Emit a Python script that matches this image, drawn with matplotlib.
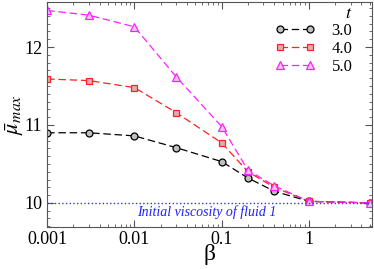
import numpy as np
import matplotlib
matplotlib.use("Agg")
import matplotlib.pyplot as plt
from matplotlib.ticker import MultipleLocator, LogLocator, NullFormatter

plt.rcParams['font.family'] = ['Liberation Serif', 'DejaVu Serif']
plt.rcParams['mathtext.fontset'] = 'stix'

beta = [0.001, 0.003, 0.01, 0.03, 0.1, 0.2, 0.4, 1.0, 5.0]
mu_t3 = [10.90, 10.90, 10.86, 10.71, 10.53, 10.32, 10.15, 10.02, 10.00]
mu_t4 = [11.59, 11.57, 11.48, 11.16, 10.77, 10.40, 10.20, 10.02, 10.00]
mu_t5 = [12.47, 12.41, 12.26, 11.62, 10.98, 10.42, 10.22, 10.02, 10.00]
labels = ['3.0', '4.0', '5.0']
mu_init = 10.0

fig = plt.figure(figsize=(3.74, 2.69), dpi=100)
ax = fig.add_axes([0.126, 0.156, 0.869, 0.837])

dash = (6, 3)
ax.plot(beta, mu_t3, '--o', color='black', mfc='#bfbfbf', mec='black', ms=5, lw=0.9, mew=0.9, dashes=dash, label=labels[0])
ax.plot(beta, mu_t4, '--s', color='#ff2020', mfc='#d8b0b0', mec='#ff2020', ms=5, lw=0.9, mew=0.9, dashes=dash, label=labels[1])
ax.plot(beta, mu_t5, '--^', color='#ff20ff', mfc='#e8c8e8', mec='#ff20ff', ms=5.5, lw=0.9, mew=0.9, dashes=dash, label=labels[2])
ax.axhline(mu_init, color='#3030ff', ls=':', lw=1)
ax.text(0.067, 9.885, 'Initial viscosity of fluid 1', color='#2020ff', style='italic',
        fontsize=10, ha='center', va='center')

ax.set_xscale('log')
ax.set_xlim(0.001, 5.3)
ax.set_ylim(9.69, 12.58)
ax.set_xticks([0.001, 0.01, 0.1, 1])
ax.set_xticklabels(['0.001', '0.01', '0.1', '1'])
ax.xaxis.set_minor_locator(LogLocator(base=10, subs=np.arange(2, 10)))
ax.xaxis.set_minor_formatter(NullFormatter())
ax.set_yticks([10, 11, 12])
ax.yaxis.set_minor_locator(MultipleLocator(0.1))
ax.tick_params(which='both', direction='in', top=True, right=True, labelsize=13, color='#555555')
ax.tick_params(which='major', length=5)
ax.tick_params(which='minor', length=2.5)
ax.tick_params(axis='x', pad=3)
for s in ax.spines.values():
    s.set_color('#555555')

ax.set_xlabel('β', fontsize=17, labelpad=-3)
ax.set_ylabel(r'$\bar{\mu}_{max}$', fontsize=16, labelpad=-1)

leg = ax.legend(title='$t$', loc='upper right', bbox_to_anchor=(0.975, 1.04), frameon=False,
                fontsize=12, numpoints=2, handlelength=2.4, borderaxespad=0.3,
                labelspacing=0.1, handletextpad=1.0)
leg.get_title().set_fontsize(13)
leg._legend_box.align = 'right'

fig.savefig('out.png', dpi=100)
